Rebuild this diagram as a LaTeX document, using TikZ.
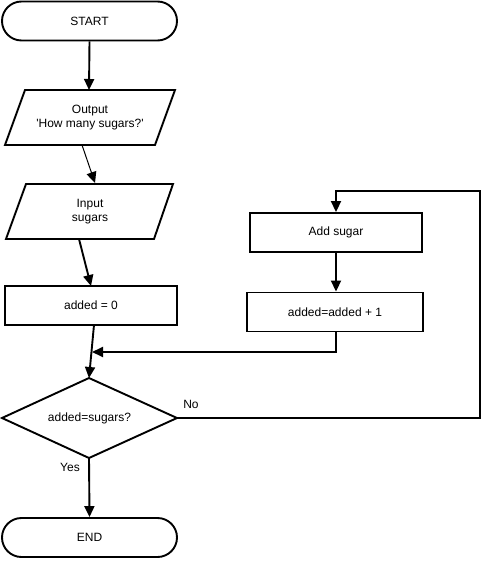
\documentclass[tikz,border=0pt]{standalone}
\usepackage{fontspec}
\setmainfont{Liberation Sans}
\usetikzlibrary{arrows.meta}
\begin{document}
\begin{tikzpicture}[x=1pt,y=-1pt,
  every node/.style={font=\fontsize{12}{14}\selectfont, align=center},
  shape line/.style={draw, line width=1.9pt},
  terminal/.style={shape line, rectangle, rounded corners=19.5pt, minimum width=175pt, minimum height=39pt, inner sep=0pt},
  process/.style={shape line, rectangle, minimum height=39pt, inner sep=0pt},
  flow/.style={line width=1.9pt, -{Triangle[length=11pt,width=10pt]}},
  thinflow/.style={line width=1pt, -{Triangle[length=11pt,width=10pt]}},
  lbl/.style={inner sep=0pt}]
\useasboundingbox (0,0) rectangle (483,561);

% terminals
\node[terminal] (start) at (89.5,21) {START};
\node[terminal] (end) at (89.5,537.5) {END};

% output parallelogram
\coordinate (outTL) at (25,90);  \coordinate (outTR) at (175,90);
\coordinate (outBR) at (155,145); \coordinate (outBL) at (5,145);
\draw[shape line] (outTL) -- (outTR) -- (outBR) -- (outBL) -- cycle;
\node (outtxt) at (90,117.5) {Output\\\textquotesingle How many sugars?\textquotesingle};

% input parallelogram
\coordinate (inTL) at (26,184);  \coordinate (inTR) at (173,184);
\coordinate (inBR) at (154,239); \coordinate (inBL) at (6,239);
\draw[shape line] (inTL) -- (inTR) -- (inBR) -- (inBL) -- cycle;
\node (intxt) at (90,211.5) {Input\\sugars};

% process boxes
\node[process, minimum width=172pt] (init) at (91,305.5) {added = 0};
\node[process, minimum width=172pt] (addsugar) at (336,232.5) {Add sugar};
\node[process, minimum width=176pt] (inc) at (335,312) {added=added + 1};

% decision diamond
\coordinate (dT) at (89,378); \coordinate (dR) at (177,418);
\coordinate (dB) at (89,458); \coordinate (dL) at (2,418);
\draw[shape line] (dT) -- (dR) -- (dB) -- (dL) -- cycle;
\node (dtxt) at (89.5,418) {added=sugars?};

% connector end points
\coordinate (outIn) at (89,90);
\coordinate (outOut) at (82,145);
\coordinate (inIn) at (95,183);
\coordinate (inOut) at (79,239);
\coordinate (initIn) at (91,286);
\coordinate (initOut) at (94,325);
\coordinate (merge) at (92,352);
\coordinate (loopR) at (480,418);
\coordinate (loopT) at (336,191);

% connectors
\draw[flow] (start.south) -- (outIn);
\draw[thinflow] (outOut) -- (inIn);
\draw[flow] (inOut) -- (initIn);
\draw[flow] (initOut) -- (dT);
\draw[flow] (inc.south -| 336,0) |- (merge);
\draw[flow] (addsugar.south) -- (addsugar.south |- inc.north);
\draw[flow] (dR) -- (loopR) |- (loopT) -- (addsugar.north);
\draw[flow] (dB) -- (end.north);

% branch labels
\node[lbl] (no) at (191,404.5) {No};
\node[lbl] (yes) at (70,467) {Yes};
\end{tikzpicture}
\end{document}
